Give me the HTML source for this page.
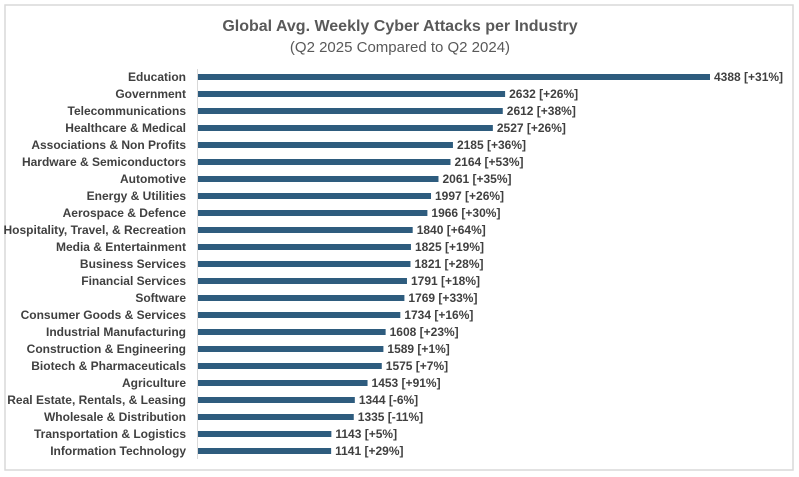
<!DOCTYPE html>
<html><head><meta charset="utf-8"><style>
body{margin:0;background:#fff;}
svg{display:block;font-family:"Liberation Sans",sans-serif;}
</style></head><body>
<svg id="chart" width="799" height="477">
<rect x="5" y="5" width="788" height="465" fill="#fff" stroke="#d9d9d9" stroke-width="1.5"/>
<text x="400" y="31" text-anchor="middle" font-size="16" font-weight="bold" fill="#595959">Global Avg. Weekly Cyber Attacks per Industry</text>
<text x="400" y="52" text-anchor="middle" font-size="15" fill="#595959">(Q2 2025 Compared to Q2 2024)</text>
<line x1="197.5" y1="69" x2="197.5" y2="459" stroke="#d9d9d9"/>
<g id="bars"></g>
</svg>
<script>
const categories=["Education","Government","Telecommunications","Healthcare & Medical","Associations & Non Profits","Hardware & Semiconductors","Automotive","Energy & Utilities","Aerospace & Defence","Hospitality, Travel, & Recreation","Media & Entertainment","Business Services","Financial Services","Software","Consumer Goods & Services","Industrial Manufacturing","Construction & Engineering","Biotech & Pharmaceuticals","Agriculture","Real Estate, Rentals, & Leasing","Wholesale & Distribution","Transportation & Logistics","Information Technology"];
const values=[4388,2632,2612,2527,2185,2164,2061,1997,1966,1840,1825,1821,1791,1769,1734,1608,1589,1575,1453,1344,1335,1143,1141];
const changes=["+31%","+26%","+38%","+26%","+36%","+53%","+35%","+26%","+30%","+64%","+19%","+28%","+18%","+33%","+16%","+23%","+1%","+7%","+91%","-6%","-11%","+5%","+29%"];
const NS="http://www.w3.org/2000/svg";
const g=document.getElementById("bars");
const x0=198, scale=512/4388;
const xs=v=>x0+v*scale;
const ys=i=>77+i*17;
categories.forEach((c,i)=>{
  const y=ys(i);
  const t=document.createElementNS(NS,"text");
  
  
  t.setAttribute("x",186);t.setAttribute("y",y+4);t.setAttribute("text-anchor","end");
  t.setAttribute("font-size","12");t.setAttribute("font-weight","bold");t.setAttribute("fill","#404040");
  t.textContent=c;g.appendChild(t);
  const r=document.createElementNS(NS,"rect");
  
  
  r.setAttribute("x",x0);r.setAttribute("y",y-3);r.setAttribute("width",xs(values[i])-x0);r.setAttribute("height",6);
  r.setAttribute("fill","#2e5c7e");g.appendChild(r);
  const v=document.createElementNS(NS,"text");
  
  
  v.setAttribute("x",xs(values[i])+4);v.setAttribute("y",y+4);
  v.setAttribute("font-size","12");v.setAttribute("font-weight","bold");v.setAttribute("fill","#404040");
  v.textContent=values[i]+" ["+changes[i]+"]";g.appendChild(v);
});
</script>
</body></html>
